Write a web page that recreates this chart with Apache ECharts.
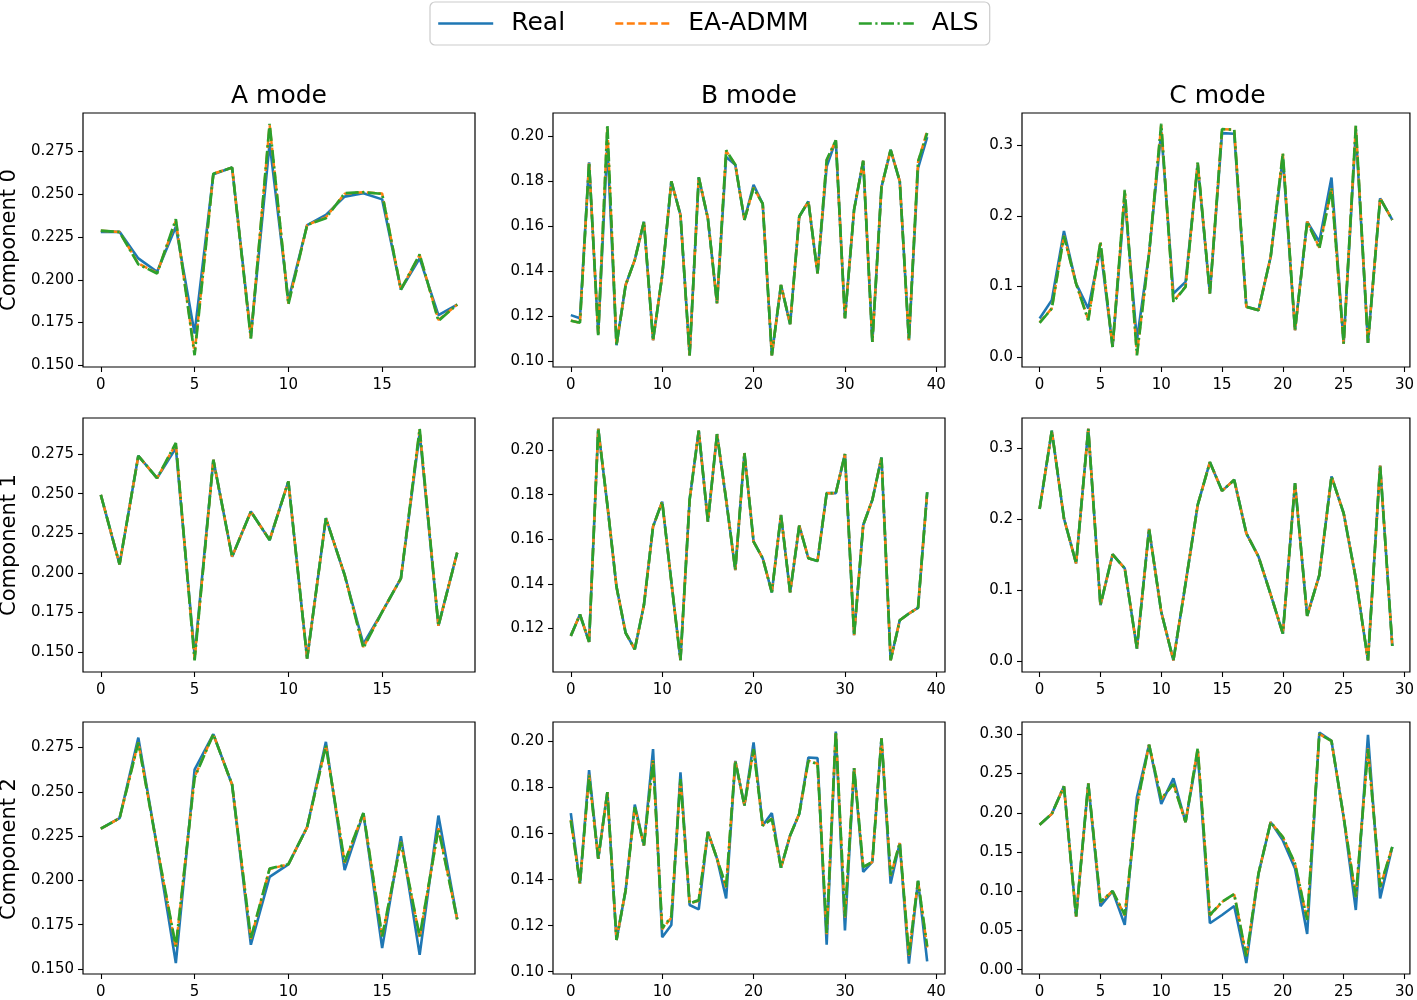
<!DOCTYPE html>
<html>
<head>
<meta charset="utf-8">
<script src="https://cdn.jsdelivr.net/npm/echarts@6/dist/echarts.min.js"></script>
<style>html,body{margin:0;padding:0;background:#fff}#c{width:1417px;height:1000px}</style>
</head>
<body>
<div id="c"></div>
<script>
// ---------- data ----------
const seriesNames = ['Real', 'EA-ADMM', 'ALS'];
const colTitles = ['A mode', 'B mode', 'C mode'];
const rowLabels = ['Component 0', 'Component 1', 'Component 2'];

const xTicksA = [0, 5, 10, 15];
const xTicksB = [0, 10, 20, 30, 40];
const xTicksC = [0, 5, 10, 15, 20, 25, 30];
const yTicksA = [0.150, 0.175, 0.200, 0.225, 0.250, 0.275];
const yTicksB0 = [0.10, 0.12, 0.14, 0.16, 0.18, 0.20];
const yTicksB1 = [0.12, 0.14, 0.16, 0.18, 0.20];
const yTicksB2 = [0.10, 0.12, 0.14, 0.16, 0.18, 0.20];
const yTicksC01 = [0.0, 0.1, 0.2, 0.3];
const yTicksC2 = [0.00, 0.05, 0.10, 0.15, 0.20, 0.25, 0.30];

// Component 0
const realA0 = [0.228,0.228,0.2125,0.2047,0.231,0.1686,0.2617,0.2656,0.167,0.2799,0.188,0.232,0.2379,0.2486,0.2506,0.247,0.1943,0.2125,0.1793,0.1855];
const eaA0   = [0.2287,0.2279,0.2095,0.204,0.2345,0.157,0.262,0.2656,0.166,0.2905,0.186,0.232,0.2365,0.2503,0.2512,0.2505,0.1943,0.2145,0.1765,0.1855];
const alsA0  = [0.2287,0.2279,0.209,0.2037,0.2354,0.1559,0.262,0.2656,0.1656,0.2912,0.1857,0.232,0.236,0.2506,0.2512,0.2502,0.1943,0.2148,0.176,0.1855];

const realB0 = [0.1204,0.119,0.1884,0.112,0.197,0.107,0.1338,0.145,0.162,0.1092,0.138,0.180,0.165,0.1025,0.1818,0.1635,0.1256,0.1908,0.1874,0.1628,0.1784,0.170,0.1025,0.1338,0.1164,0.1643,0.171,0.139,0.1866,0.1982,0.119,0.1673,0.1891,0.1085,0.1774,0.194,0.180,0.1092,0.1858,0.1997];
const eaB0   = [0.118,0.117,0.1884,0.1115,0.204,0.107,0.1338,0.145,0.162,0.1092,0.138,0.180,0.165,0.1025,0.1818,0.1635,0.1256,0.1935,0.1874,0.1628,0.1772,0.170,0.1025,0.1338,0.1164,0.1643,0.171,0.139,0.1892,0.1982,0.119,0.1673,0.1891,0.1085,0.1774,0.194,0.180,0.1092,0.1885,0.2025];
const alsB0  = [0.1179,0.117,0.1884,0.1115,0.2052,0.107,0.1338,0.145,0.162,0.1092,0.138,0.180,0.165,0.1025,0.1818,0.1635,0.1256,0.1938,0.1874,0.1628,0.177,0.170,0.1025,0.1338,0.1164,0.1643,0.171,0.139,0.1896,0.1982,0.119,0.1673,0.1891,0.1085,0.1774,0.194,0.180,0.1092,0.1888,0.2015];

const realC0 = [0.0545,0.0806,0.1787,0.104,0.0687,0.154,0.0142,0.225,0.0237,0.147,0.32,0.090,0.1066,0.2725,0.090,0.3175,0.3166,0.0711,0.0664,0.1422,0.282,0.0379,0.192,0.1635,0.2545,0.019,0.32,0.020,0.225,0.1943];
const eaC0   = [0.049,0.069,0.172,0.104,0.053,0.162,0.0142,0.235,0.004,0.147,0.329,0.079,0.1,0.275,0.090,0.3232,0.3223,0.0711,0.0664,0.1422,0.288,0.0379,0.192,0.155,0.24,0.019,0.327,0.020,0.225,0.1943];
const alsC0  = [0.0483,0.0687,0.1716,0.104,0.052,0.1635,0.0142,0.237,0.0024,0.147,0.3308,0.078,0.0995,0.2758,0.090,0.3232,0.3223,0.0711,0.0664,0.1422,0.289,0.0379,0.192,0.154,0.2393,0.019,0.328,0.020,0.225,0.1943];

// Component 1
const realA1 = [0.2492,0.2053,0.2739,0.2598,0.2788,0.148,0.2714,0.2102,0.2387,0.2207,0.2577,0.1458,0.2345,0.1986,0.155,0.1753,0.1965,0.2883,0.1665,0.2127];
const eaA1   = [0.2492,0.2053,0.2739,0.2598,0.2815,0.1452,0.2714,0.2102,0.2387,0.2207,0.2577,0.1458,0.2345,0.1986,0.153,0.1753,0.1965,0.2905,0.1665,0.2127];
const alsA1  = [0.2492,0.2053,0.2739,0.2598,0.282,0.1447,0.2714,0.2102,0.2387,0.2207,0.2577,0.1458,0.2345,0.1986,0.1525,0.1753,0.1965,0.291,0.1665,0.2127];

const realB1 = [0.1167,0.1263,0.114,0.2096,0.1754,0.1387,0.118,0.1107,0.1305,0.1657,0.1769,0.141,0.1058,0.1777,0.2087,0.1679,0.2072,0.1777,0.1462,0.1987,0.159,0.1515,0.1362,0.171,0.1362,0.1661,0.1515,0.1503,0.1807,0.1807,0.1982,0.117,0.1664,0.1777,0.1967,0.1058,0.1237,0.1267,0.1293,0.1811];
const eaB1   = [0.1167,0.1263,0.114,0.2096,0.1754,0.1387,0.118,0.1107,0.1305,0.1657,0.1769,0.141,0.1058,0.1777,0.2087,0.1679,0.2072,0.1777,0.1462,0.1987,0.159,0.1515,0.1362,0.171,0.1362,0.1661,0.1515,0.1503,0.1807,0.1807,0.1982,0.117,0.1664,0.1777,0.1967,0.1058,0.1237,0.1267,0.1293,0.1811];
const alsB1  = [0.1167,0.1263,0.114,0.2096,0.1754,0.1387,0.118,0.1107,0.1305,0.1657,0.1769,0.141,0.1058,0.1777,0.2087,0.1679,0.2072,0.1777,0.1462,0.1987,0.159,0.1515,0.1362,0.171,0.1362,0.1661,0.1515,0.1503,0.1807,0.1807,0.1982,0.117,0.1664,0.1777,0.1967,0.1058,0.1237,0.1267,0.1293,0.1811];

const realC1 = [0.2144,0.3244,0.2012,0.1378,0.3272,0.079,0.1504,0.1307,0.0179,0.1862,0.0696,0.0014,0.1095,0.22,0.2802,0.2398,0.2553,0.180,0.1472,0.094,0.039,0.2506,0.064,0.1213,0.26,0.2083,0.1166,0.0014,0.2755,0.0216];
const eaC1   = [0.2144,0.3244,0.2012,0.1378,0.3272,0.079,0.1504,0.1307,0.0179,0.1862,0.0696,0.0014,0.1095,0.22,0.2802,0.2398,0.2553,0.180,0.1472,0.094,0.039,0.2506,0.064,0.1213,0.26,0.2083,0.1166,0.0014,0.2755,0.0216];
const alsC1  = [0.2144,0.3244,0.2012,0.1378,0.3272,0.079,0.1504,0.1307,0.0179,0.1862,0.0696,0.0014,0.1095,0.22,0.2802,0.2398,0.2553,0.180,0.1472,0.094,0.039,0.2506,0.064,0.1213,0.26,0.2083,0.1166,0.0014,0.2755,0.0216];

// Component 2
const realA2 = [0.2292,0.2351,0.2806,0.2189,0.1534,0.2625,0.2825,0.254,0.1637,0.202,0.2091,0.2301,0.2782,0.2058,0.238,0.1618,0.2249,0.158,0.2366,0.1781];
const eaA2   = [0.2292,0.2351,0.278,0.2189,0.162,0.2585,0.2825,0.254,0.167,0.2065,0.2091,0.2301,0.2762,0.21,0.238,0.168,0.2219,0.1678,0.2295,0.1781];
const alsA2  = [0.2292,0.2351,0.2778,0.2189,0.1627,0.258,0.2825,0.254,0.1674,0.2067,0.2091,0.2301,0.276,0.2104,0.238,0.1683,0.2217,0.1683,0.2292,0.1781];

const realB2 = [0.1689,0.1383,0.1876,0.1491,0.178,0.1138,0.1354,0.1726,0.1549,0.1967,0.115,0.1203,0.1866,0.129,0.1271,0.1607,0.1491,0.1318,0.1916,0.1722,0.1996,0.1635,0.1689,0.1452,0.1592,0.1686,0.1931,0.1928,0.1117,0.2043,0.1179,0.1885,0.1434,0.1477,0.2014,0.1383,0.1559,0.1035,0.1395,0.1045];
const eaB2   = [0.166,0.1383,0.1855,0.1491,0.178,0.1138,0.1354,0.1716,0.1549,0.192,0.1185,0.1235,0.184,0.1297,0.1308,0.1607,0.1491,0.1365,0.1916,0.1722,0.197,0.1635,0.1666,0.1452,0.1592,0.1686,0.1917,0.1904,0.1163,0.2043,0.1235,0.1885,0.1453,0.1477,0.2014,0.1416,0.1559,0.107,0.1395,0.1105];
const alsB2  = [0.1657,0.1383,0.1852,0.1491,0.178,0.1138,0.1354,0.1715,0.1549,0.1916,0.1189,0.1239,0.1837,0.1297,0.1311,0.1607,0.1491,0.1369,0.1916,0.1722,0.1967,0.1635,0.1664,0.1452,0.1592,0.1686,0.1916,0.1902,0.1167,0.2043,0.1239,0.1885,0.1455,0.1477,0.2014,0.1419,0.1559,0.1073,0.1395,0.111];

const realC2 = [0.1847,0.1986,0.2337,0.0676,0.2375,0.0811,0.1002,0.0571,0.2198,0.2866,0.2113,0.2439,0.1881,0.2768,0.0592,0.0697,0.0811,0.0085,0.1226,0.1881,0.1648,0.1289,0.0456,0.3022,0.2916,0.1944,0.0761,0.2992,0.0909,0.1564];
const eaC2   = [0.1847,0.1986,0.2337,0.0676,0.2375,0.086,0.1002,0.069,0.21,0.2866,0.2172,0.2372,0.1881,0.282,0.069,0.0862,0.096,0.0165,0.1226,0.1881,0.169,0.135,0.063,0.3003,0.2916,0.1944,0.0925,0.282,0.1052,0.1564];
const alsC2  = [0.1847,0.1986,0.2337,0.0676,0.2375,0.0866,0.1002,0.0697,0.2092,0.2866,0.2177,0.2367,0.1881,0.2823,0.0697,0.0866,0.0964,0.0169,0.1226,0.1881,0.1691,0.1352,0.0634,0.3001,0.2916,0.1944,0.093,0.2811,0.1057,0.1564];

// ---------- layout & style ----------
const FONT = 'DejaVu Sans';
const colors = ['#1f77b4', '#ff7f0e', '#2ca02c'];
const lineTypes = ['solid', [8, 3.5], [13, 3.5, 2.2, 3.5]];
const lineWidths = [2.6, 2.5, 2.7];
const gridLefts = [83, 553, 1022];
const gridWidths = [392, 392, 391];
const gridTops = [113, 418, 722];
const gridHeight = 254;

const panels = [
  {r:0,c:0,d:[realA0,eaA0,alsA0],xMin:-0.95,xMax:19.95,yMin:0.149,yMax:0.2975,xt:xTicksA,yt:yTicksA,dec:3},
  {r:0,c:1,d:[realB0,eaB0,alsB0],xMin:-1.95,xMax:40.95,yMin:0.0973,yMax:0.2104,xt:xTicksB,yt:yTicksB0,dec:2},
  {r:0,c:2,d:[realC0,eaC0,alsC0],xMin:-1.45,xMax:30.45,yMin:-0.0142,yMax:0.346,xt:xTicksC,yt:yTicksC01,dec:1},
  {r:1,c:0,d:[realA1,eaA1,alsA1],xMin:-0.95,xMax:19.95,yMin:0.1373,yMax:0.2978,xt:xTicksA,yt:yTicksA,dec:3},
  {r:1,c:1,d:[realB1,eaB1,alsB1],xMin:-1.95,xMax:40.95,yMin:0.1005,yMax:0.2144,xt:xTicksB,yt:yTicksB1,dec:2},
  {r:1,c:2,d:[realC1,eaC1,alsC1],xMin:-1.45,xMax:30.45,yMin:-0.015,yMax:0.3423,xt:xTicksC,yt:yTicksC01,dec:1},
  {r:2,c:0,d:[realA2,eaA2,alsA2],xMin:-0.95,xMax:19.95,yMin:0.1472,yMax:0.2894,xt:xTicksA,yt:yTicksA,dec:3},
  {r:2,c:1,d:[realB2,eaB2,alsB2],xMin:-1.95,xMax:40.95,yMin:0.099,yMax:0.2085,xt:xTicksB,yt:yTicksB2,dec:2},
  {r:2,c:2,d:[realC2,eaC2,alsC2],xMin:-1.45,xMax:30.45,yMin:-0.0055,yMax:0.3157,xt:xTicksC,yt:yTicksC2,dec:2}
];

const grid = [], xAxis = [], yAxis = [], series = [];
const tickStyle = {show:true, length:5, inside:false, lineStyle:{color:'#000', width:1.1}};
panels.forEach((p, i) => {
  grid.push({left:gridLefts[p.c], top:gridTops[p.r], width:gridWidths[p.c], height:gridHeight,
    show:true, borderColor:'#000', borderWidth:1.2, backgroundColor:'#fff'});
  xAxis.push({type:'value', gridIndex:i, min:p.xMin, max:p.xMax,
    axisLine:{show:false, onZero:false}, splitLine:{show:false},
    axisTick:Object.assign({customValues:p.xt}, tickStyle),
    axisLabel:{customValues:p.xt, color:'#000', fontSize:15, fontFamily:FONT, margin:11,
      formatter:v => String(Math.round(v))}});
  yAxis.push({type:'value', gridIndex:i, min:p.yMin, max:p.yMax,
    axisLine:{show:false, onZero:false}, splitLine:{show:false},
    axisTick:Object.assign({customValues:p.yt}, tickStyle),
    axisLabel:{customValues:p.yt, color:'#000', fontSize:15, fontFamily:FONT, margin:9,
      formatter:v => Number(v).toFixed(p.dec)}});
  p.d.forEach((vals, k) => {
    series.push({type:'line', name:seriesNames[k], xAxisIndex:i, yAxisIndex:i,
      data:vals.map((v, j) => [j, v]), symbol:'none', showSymbol:false,
      lineStyle:{color:colors[k], width:lineWidths[k], type:lineTypes[k]},
      itemStyle:{color:colors[k]}, z:2 + k, animation:false});
  });
});

const graphic = [];
colTitles.forEach((t, c) => {
  graphic.push({type:'text', x:gridLefts[c] + gridWidths[c] / 2, y:96,
    style:{text:t, fill:'#000', font:'25px "DejaVu Sans"', textAlign:'center', textVerticalAlign:'middle'}});
});
rowLabels.forEach((t, r) => {
  graphic.push({type:'text', x:10, y:gridTops[r] + gridHeight / 2, rotation:Math.PI / 2,
    style:{text:t, fill:'#000', font:'21px "DejaVu Sans"', textAlign:'center', textVerticalAlign:'middle'}});
});

const chart = echarts.init(document.getElementById('c'), null, {renderer:'canvas'});
chart.setOption({
  animation:false,
  backgroundColor:'#fff',
  legend:{data:seriesNames, left:430, top:2, itemWidth:55, itemHeight:14, itemGap:49,
    padding:[9, 11, 9, 7], borderColor:'#cccccc', borderWidth:1.2, borderRadius:5,
    itemStyle:{color:'rgba(0,0,0,0)', borderColor:'rgba(0,0,0,0)', borderWidth:0},
    lineStyle:{width:2.4},
    textStyle:{fontSize:25, fontFamily:FONT, color:'#000', padding:[0, 0, 0, 13]}},
  grid, xAxis, yAxis, series, graphic
});
</script>
</body>
</html>
